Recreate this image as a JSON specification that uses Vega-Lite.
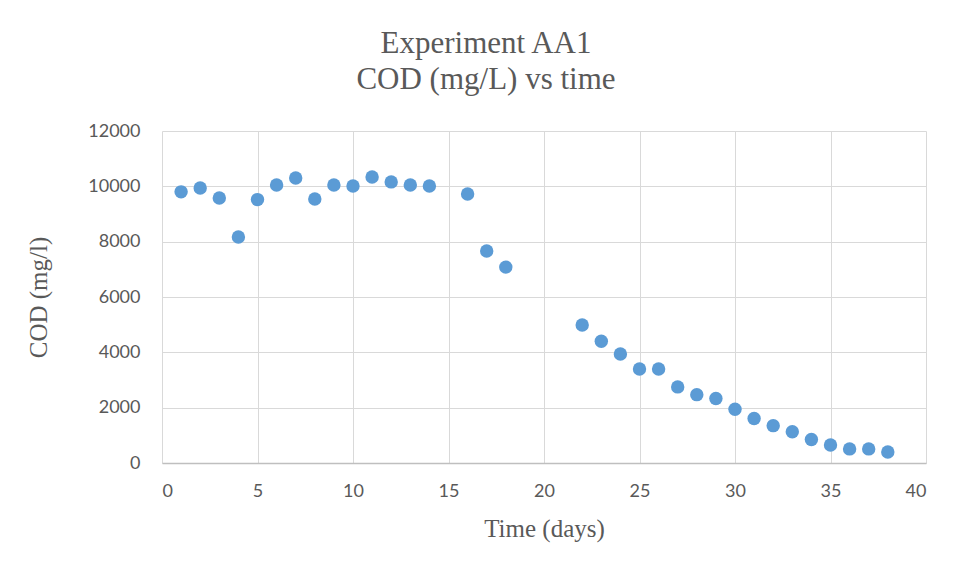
{
  "$schema": "https://vega.github.io/schema/vega-lite/v6.json",
  "width": 764,
  "height": 332,
  "autosize": {"type": "none"},
  "padding": {"left": 162, "top": 131, "right": 31, "bottom": 114},
  "background": "white",
  "title": {
    "text": ["Experiment AA1", "COD (mg/L) vs time"],
    "font": "Liberation Serif",
    "fontSize": 31,
    "fontWeight": "normal",
    "color": "#595959",
    "lineHeight": 36,
    "anchor": "middle",
    "dx": -58,
    "offset": 26
  },
  "config": {
    "view": {"stroke": null},
    "axis": {
      "gridColor": "#D9D9D9",
      "gridWidth": 1,
      "labelColor": "#595959",
      "titleColor": "#595959",
      "labelFont": "Lato",
      "labelFontSize": 18,
      "titleFont": "Liberation Serif",
      "titleFontSize": 25,
      "titleFontWeight": "normal",
      "ticks": false
    }
  },
  "data": {
    "values": [
      {"day": 1, "cod": 9800},
      {"day": 2, "cod": 9940},
      {"day": 3, "cod": 9580},
      {"day": 4, "cod": 8170},
      {"day": 5, "cod": 9520},
      {"day": 6, "cod": 10050},
      {"day": 7, "cod": 10300},
      {"day": 8, "cod": 9540},
      {"day": 9, "cod": 10050},
      {"day": 10, "cod": 10010},
      {"day": 11, "cod": 10340},
      {"day": 12, "cod": 10160},
      {"day": 13, "cod": 10050},
      {"day": 14, "cod": 10010},
      {"day": 16, "cod": 9720},
      {"day": 17, "cod": 7660},
      {"day": 18, "cod": 7080},
      {"day": 22, "cod": 4990},
      {"day": 23, "cod": 4400},
      {"day": 24, "cod": 3940},
      {"day": 25, "cod": 3400},
      {"day": 26, "cod": 3400},
      {"day": 27, "cod": 2750},
      {"day": 28, "cod": 2470},
      {"day": 29, "cod": 2330},
      {"day": 30, "cod": 1940},
      {"day": 31, "cod": 1610},
      {"day": 32, "cod": 1350},
      {"day": 33, "cod": 1130},
      {"day": 34, "cod": 850},
      {"day": 35, "cod": 650},
      {"day": 36, "cod": 510},
      {"day": 37, "cod": 510},
      {"day": 38, "cod": 400}
    ]
  },
  "mark": {"type": "circle", "size": 180, "color": "#5B9BD5", "opacity": 1},
  "encoding": {
    "x": {
      "field": "day",
      "type": "quantitative",
      "scale": {"domain": [0, 40], "nice": false, "zero": true},
      "axis": {
        "title": "Time (days)",
        "values": [0, 5, 10, 15, 20, 25, 30, 35, 40],
        "labelPadding": 19,
        "titlePadding": 16,
        "domain": true,
        "domainColor": "#BFBFBF",
        "domainWidth": 1.5
      }
    },
    "y": {
      "field": "cod",
      "type": "quantitative",
      "scale": {"domain": [0, 12000], "nice": false},
      "axis": {
        "title": "COD (mg/l)",
        "values": [0, 2000, 4000, 6000, 8000, 10000, 12000],
        "format": "d",
        "labelPadding": 22,
        "titlePadding": 36,
        "domain": false
      }
    }
  }
}
